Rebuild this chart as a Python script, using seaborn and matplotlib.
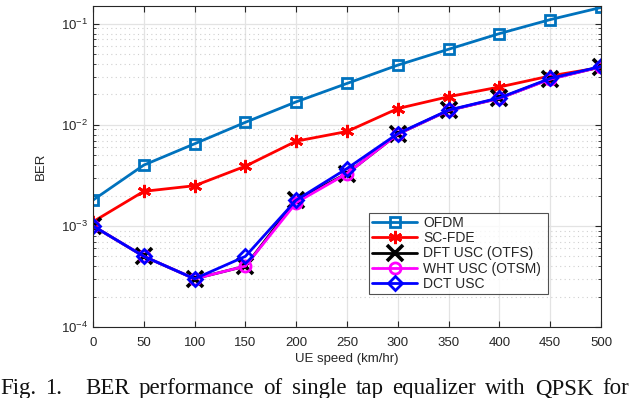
import matplotlib

matplotlib.use("Agg")
import matplotlib.pyplot as plt
import numpy as np
import pandas as pd
import seaborn as sns
from matplotlib.ticker import LogLocator, NullFormatter

speed = [0, 50, 100, 150, 200, 250, 300, 350, 400, 450, 500]
ofdm = [0.0018, 0.0040, 0.0065, 0.0106, 0.0169, 0.0257, 0.039, 0.056, 0.080, 0.110, 0.145]
scfde = [0.0011, 0.0022, 0.0025, 0.0039, 0.0069, 0.0086, 0.0145, 0.019, 0.0237, 0.0305, 0.037]
dft_usc = [0.0010, 0.0005, 0.0003, 0.0004, 0.0018, 0.0033, 0.0081, 0.0139, 0.0183, 0.0285, 0.0375]
wht_usc = [0.0010, 0.0005, 0.0003, 0.0004, 0.0017, 0.0033, 0.0081, 0.0139, 0.0183, 0.0283, 0.0375]
dct_usc = [0.0010, 0.0005, 0.0003, 0.0005, 0.0018, 0.0037, 0.0082, 0.0140, 0.0185, 0.0288, 0.0378]

series = [
    ("OFDM", ofdm, "#0072BD", "s", 6.5),
    ("SC-FDE", scfde, "#FF0000", (6, 2, 0), 9.5),
    ("DFT USC (OTFS)", dft_usc, "#000000", "x", 11),
    ("WHT USC (OTSM)", wht_usc, "#FF00FF", "o", 8),
    ("DCT USC", dct_usc, "#0000FF", "D", 7.5),
]

caption_words = ["Fig.", "1.", "BER", "performance", "of", "single", "tap",
                 "equalizer", "with", "QPSK", "for"]

sns.set_style("ticks")
plt.rcParams["font.family"] = ["Liberation Sans", "DejaVu Sans"]
plt.rcParams["mathtext.fontset"] = "custom"
plt.rcParams["mathtext.rm"] = "Liberation Sans"

fig = plt.figure(figsize=(6.3, 3.98), dpi=100)
ax = fig.add_axes([93 / 630, 1 - 327 / 398, 508 / 630, 321 / 398])

for name, vals, color, marker, ms in series:
    df = pd.DataFrame({"speed": speed, "ber": vals})
    mfc = color if name == "SC-FDE" else "none"
    mew = 2.6 if name == "DFT USC (OTFS)" else 2.0
    sns.lineplot(data=df, x="speed", y="ber", ax=ax, color=color, label=name,
                 marker=marker, markersize=ms, markerfacecolor=mfc,
                 markeredgecolor=color, markeredgewidth=mew, linewidth=2.0)

ax.set_yscale("log")
ax.set_xlim(0, 500)
ax.set_ylim(1e-4, 0.15)
ax.set_xticks(np.arange(0, 501, 50))
ax.yaxis.set_major_locator(LogLocator(base=10, numticks=10))
ax.yaxis.set_minor_locator(LogLocator(base=10, subs=np.arange(2, 10), numticks=10))
ax.yaxis.set_minor_formatter(NullFormatter())

ax.grid(True, which="major", color="#e3e3e3", linewidth=0.9, linestyle="-")
ax.grid(True, which="minor", axis="y", color="#d0d0d0", linewidth=0.8, linestyle=(0, (1, 3)))
ax.set_axisbelow(True)

ax.tick_params(which="both", direction="in", top=True, right=True, colors="#262626",
               labelsize=9.5, length=4)
ax.tick_params(axis="x", pad=7)
ax.tick_params(which="minor", length=2)
for sp in ax.spines.values():
    sp.set_color("#262626")
    sp.set_linewidth(0.8)

ax.set_xlabel("UE speed (km/hr)", fontsize=9.5, color="#262626", labelpad=3)
ax.set_ylabel("BER", fontsize=9.5, color="#262626", labelpad=10)

leg = ax.legend(loc="lower left", bbox_to_anchor=(0.543, 0.103, 0.352, 0.252),
                mode="expand", fontsize=10, handlelength=3.3, frameon=True,
                fancybox=False, edgecolor="#262626", borderpad=0.2,
                labelspacing=0.1, handletextpad=0.4, borderaxespad=0)
leg.get_frame().set_linewidth(0.8)

# justified caption line, spread across the full width like the paper
texts = [fig.text(0, 1 - 394 / 398, w, fontsize=16.5, family="Liberation Serif",
                  ha="left", va="baseline", color="#111111") for w in caption_words]
renderer = fig.canvas.get_renderer()
widths = [t.get_window_extent(renderer).width for t in texts]
extra = 14  # wider gap after "Fig. 1."
gap = (629 - sum(widths) - extra) / (len(texts) - 1)
x = 0.0
for i, (t, w) in enumerate(zip(texts, widths)):
    t.set_x(x / 630)
    x += w + gap + (extra if i == 1 else 0)

fig.savefig("out.png", dpi=100)
